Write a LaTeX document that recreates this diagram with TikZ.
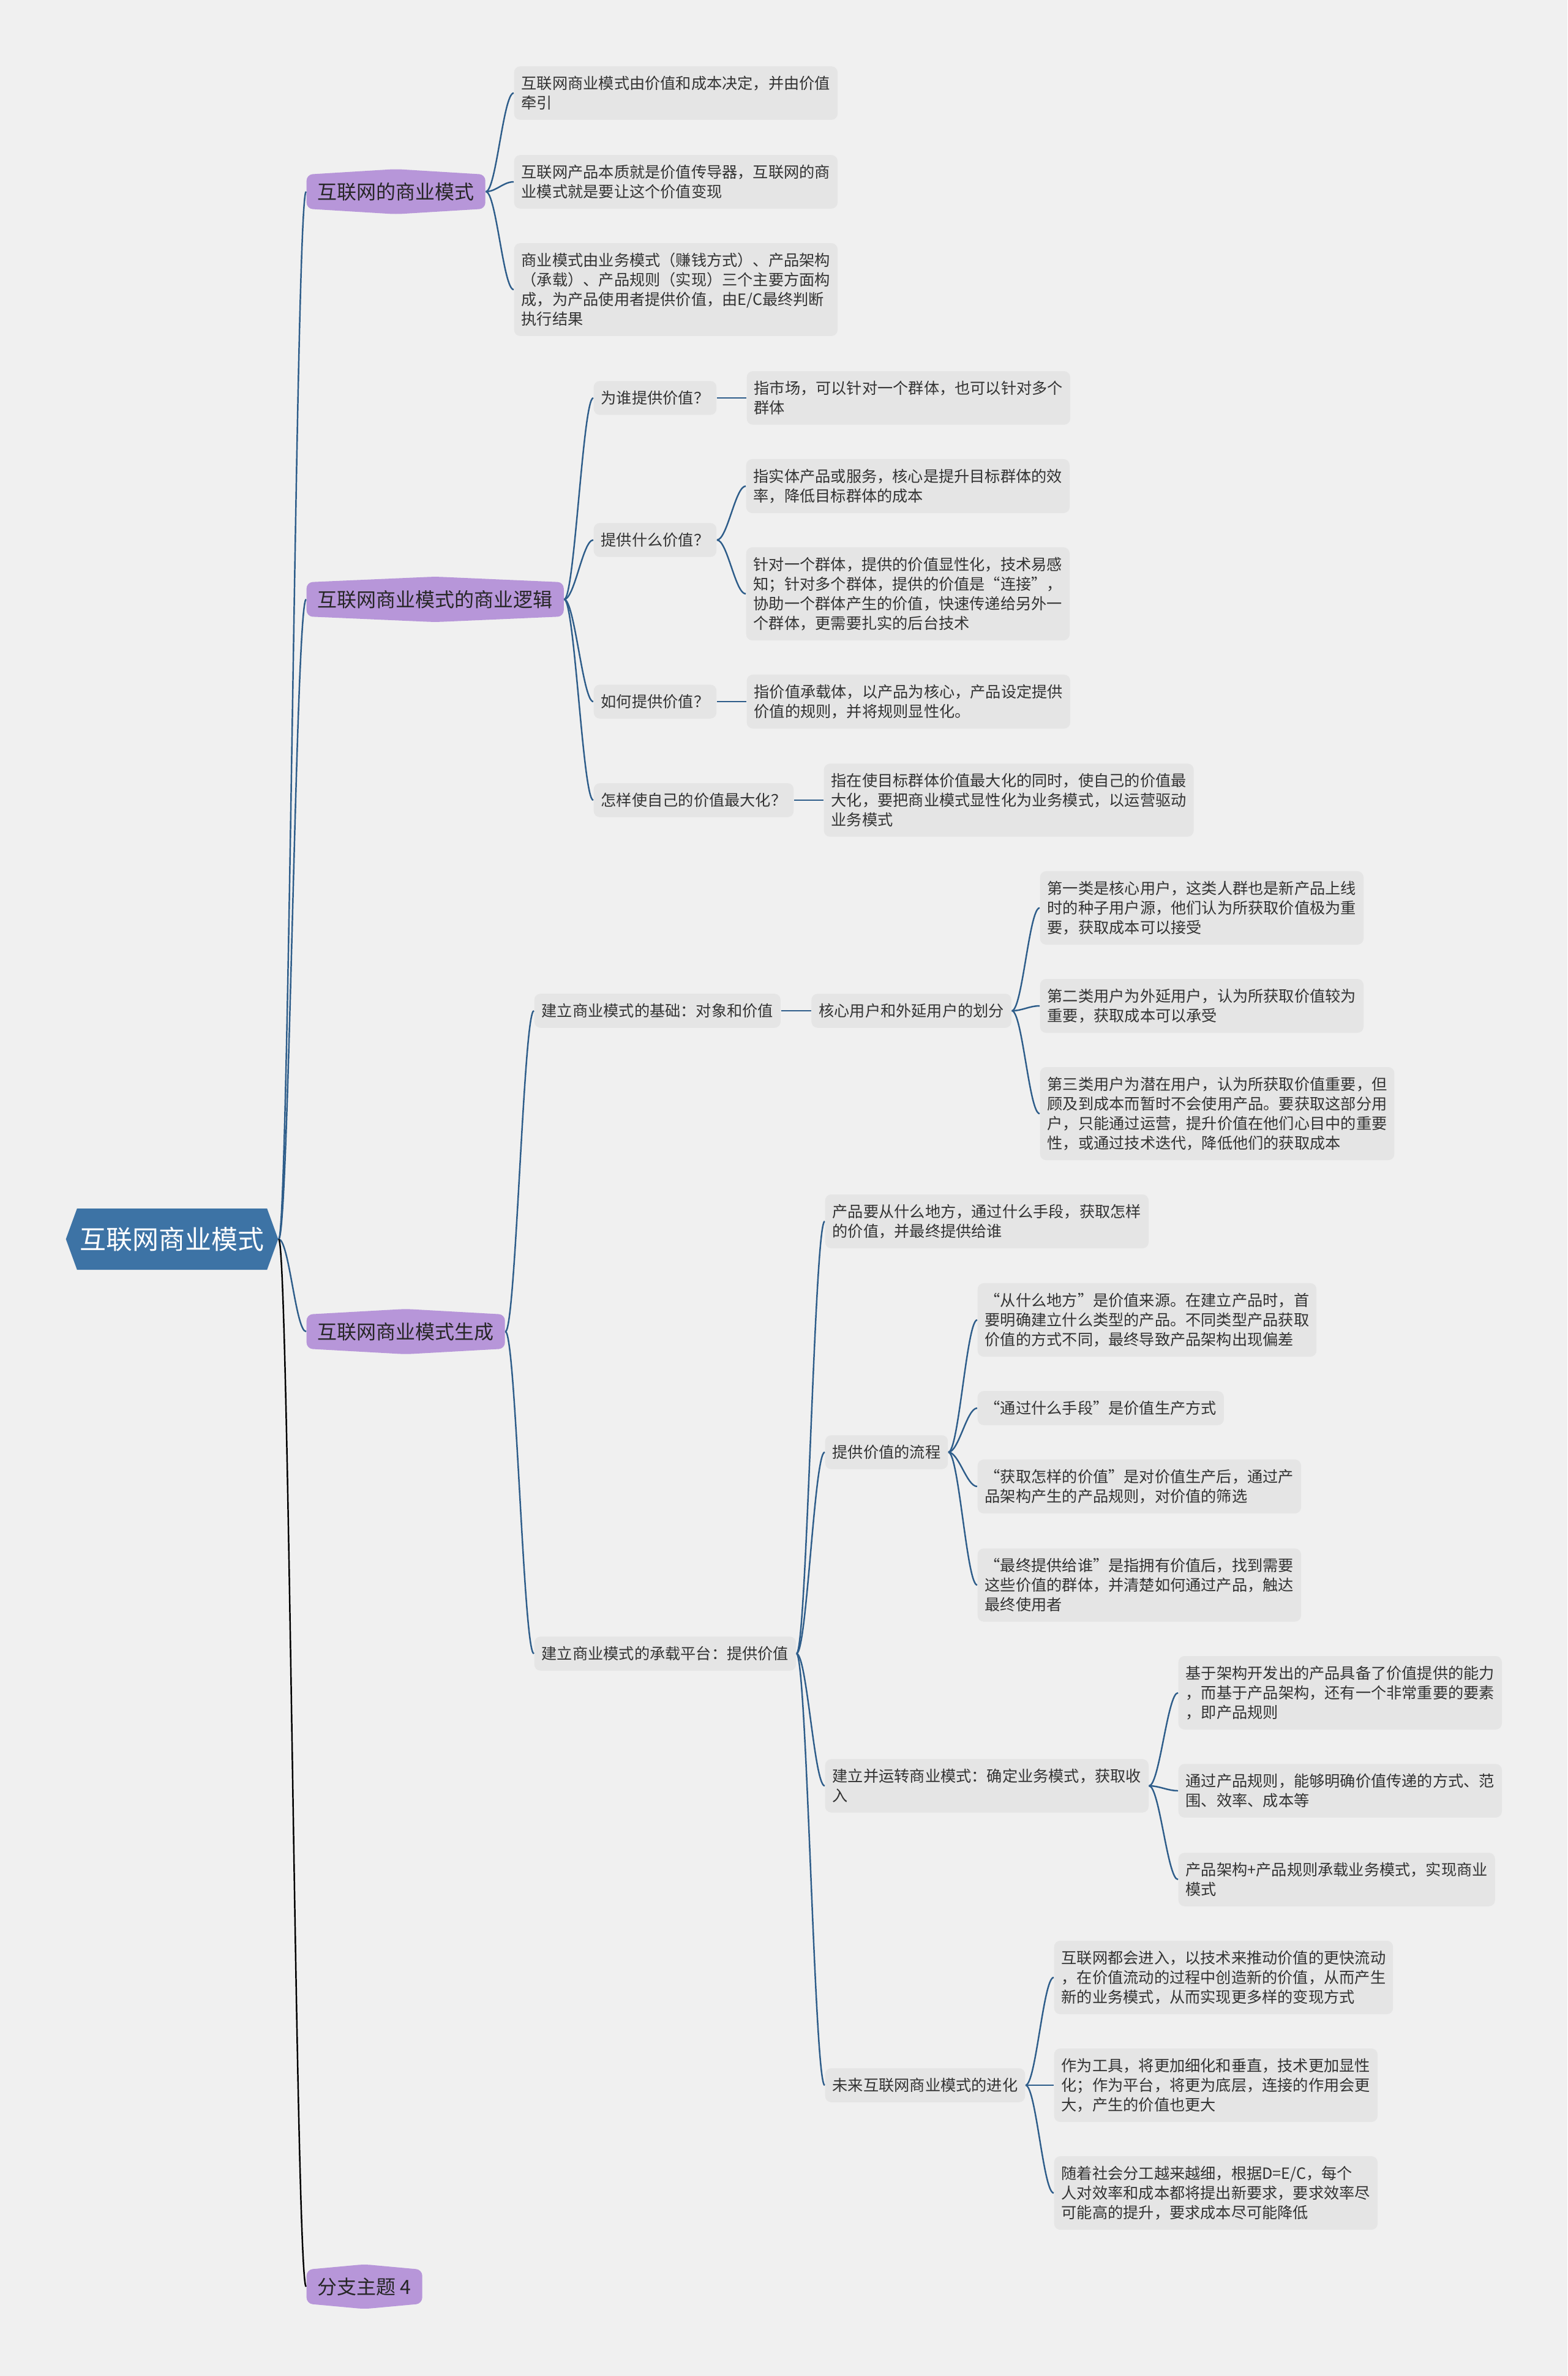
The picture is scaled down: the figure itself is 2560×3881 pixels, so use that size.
\documentclass[tikz,border=0pt]{standalone}
\usepackage{fontspec}
\setmainfont{Noto Sans CJK SC}
\usepackage{tikz}
\usetikzlibrary{positioning, shapes.symbols}
\definecolor{bgc}{HTML}{F0F0F0}
\definecolor{rootc}{HTML}{3D73A5}
\definecolor{topicc}{HTML}{B796D9}
\definecolor{leafc}{HTML}{E5E5E5}
\definecolor{linkc}{HTML}{2E5D8A}
\definecolor{textc}{HTML}{333333}

\begin{document}
\begin{tikzpicture}[x=0.01cm, y=-0.01cm, every node/.style={text=textc},
  rootbox/.style={signal, signal to=west and east, signal pointer angle=140, fill=rootc, text=white, inner xsep=0.05cm, inner ysep=0.3cm, font=\fontsize{12.2pt}{14pt}\selectfont},
  topic/.style={signal, signal to=north and south, signal pointer angle=173, fill=topicc, rounded corners=0.1cm, anchor=west, inner xsep=0.18cm, inner ysep=0.13cm, text=black!85, font=\fontsize{9.1pt}{11pt}\selectfont},
  leaf/.style={fill=leafc, rounded corners=0.1cm, align=left, anchor=west, inner xsep=0.12cm, inner ysep=0.16cm, font=\fontsize{7.17pt}{9.1pt}\selectfont},
  link/.style={draw=linkc, line width=0.7pt, to path={.. controls +(17,0) and +(-17,0) .. (\tikztotarget)}}]
      \fill[bgc] (0,0) rectangle (2560,3881);
      \useasboundingbox (0,0) rectangle (2560,3881);

      \node[rootbox] (root) at (281,2024) {互联网商业模式};
      \node[topic] (t1) at (500,313) {互联网的商业模式};
      \node[topic, signal pointer angle=175] (t2) at (500,979) {互联网商业模式的商业逻辑};
      \node[topic, signal pointer angle=173.6] (t3) at (500,2175) {互联网商业模式生成};
      \node[topic, signal pointer angle=169.5] (t4) at (500,3735) {分支主题 4};

      % 互联网的商业模式
      \node[leaf] (a1) at (839,152) {互联网商业模式由价值和成本决定，并由价值\\牵引};
      \node[leaf] (a2) at (839,297) {互联网产品本质就是价值传导器，互联网的商\\业模式就是要让这个价值变现};
      \node[leaf] (a3) at (839,473) {商业模式由业务模式（赚钱方式）、产品架构\\（承载）、产品规则（实现）三个主要方面构\\成，为产品使用者提供价值，由E/C最终判断\\执行结果};

      % 商业逻辑
      \node[leaf] (q1) at (969,650) {为谁提供价值？};
      \node[leaf, right=0.48cm of q1] (q1a) {指市场，可以针对一个群体，也可以针对多个\\群体};
      \node[leaf] (q2) at (969,882) {提供什么价值？};
      \node[leaf] (q2a) at (1218,794) {指实体产品或服务，核心是提升目标群体的效\\率，降低目标群体的成本};
      \node[leaf] (q2b) at (1218,970) {针对一个群体，提供的价值显性化，技术易感\\知；针对多个群体，提供的价值是“连接”，\\协助一个群体产生的价值，快速传递给另外一\\个群体，更需要扎实的后台技术};
      \node[leaf] (q3) at (969,1146) {如何提供价值？};
      \node[leaf, right=0.48cm of q3] (q3a) {指价值承载体，以产品为核心，产品设定提供\\价值的规则，并将规则显性化。};
      \node[leaf] (q4) at (969,1307) {怎样使自己的价值最大化？};
      \node[leaf, right=0.48cm of q4] (q4a) {指在使目标群体价值最大化的同时，使自己的价值最\\大化，要把商业模式显性化为业务模式，以运营驱动\\业务模式};

      % 生成
      \node[leaf] (b1) at (872,1651) {建立商业模式的基础：对象和价值};
      \node[leaf, right=0.49cm of b1] (c1) {核心用户和外延用户的划分};
      \node[leaf] (c1a) at (1698,1483) {第一类是核心用户，这类人群也是新产品上线\\时的种子用户源，他们认为所获取价值极为重\\要，获取成本可以接受};
      \node[leaf] (c1b) at (1698,1643) {第二类用户为外延用户，认为所获取价值较为\\重要，获取成本可以承受};
      \node[leaf] (c1c) at (1698,1819) {第三类用户为潜在用户，认为所获取价值重要，但\\顾及到成本而暂时不会使用产品。要获取这部分用\\户，只能通过运营，提升价值在他们心目中的重要\\性，或通过技术迭代，降低他们的获取成本};
      \node[leaf] (b2) at (872,2701) {建立商业模式的承载平台：提供价值};
      \node[leaf] (d1) at (1347,1995) {产品要从什么地方，通过什么手段，获取怎样\\的价值，并最终提供给谁};
      \node[leaf] (d2) at (1347,2372) {提供价值的流程};
      \node[leaf] (d2a) at (1596,2156) {“从什么地方”是价值来源。在建立产品时，首\\要明确建立什么类型的产品。不同类型产品获取\\价值的方式不同，最终导致产品架构出现偏差};
      \node[leaf] (d2b) at (1596,2300) {“通过什么手段”是价值生产方式};
      \node[leaf] (d2c) at (1596,2428) {“获取怎样的价值”是对价值生产后，通过产\\品架构产生的产品规则，对价值的筛选};
      \node[leaf] (d2d) at (1596,2589) {“最终提供给谁”是指拥有价值后，找到需要\\这些价值的群体，并清楚如何通过产品，触达\\最终使用者};
      \node[leaf] (d3) at (1347,2917) {建立并运转商业模式：确定业务模式，获取收\\入};
      \node[leaf] (d3a) at (1924,2765) {基于架构开发出的产品具备了价值提供的能力\\，而基于产品架构，还有一个非常重要的要素\\，即产品规则};
      \node[leaf] (d3b) at (1924,2925) {通过产品规则，能够明确价值传递的方式、范\\围、效率、成本等};
      \node[leaf] (d3c) at (1924,3070) {产品架构+产品规则承载业务模式，实现商业\\模式};
      \node[leaf] (d4) at (1347,3406) {未来互联网商业模式的进化};
      \node[leaf] (d4a) at (1721,3230) {互联网都会进入，以技术来推动价值的更快流动\\，在价值流动的过程中创造新的价值，从而产生\\新的业务模式，从而实现更多样的变现方式};
      \node[leaf] (d4b) at (1721,3406) {作为工具，将更加细化和垂直，技术更加显性\\化；作为平台，将更为底层，连接的作用会更\\大，产生的价值也更大};
      \node[leaf] (d4c) at (1721,3582) {随着社会分工越来越细，根据D=E/C，每个\\人对效率和成本都将提出新要求，要求效率尽\\可能高的提升，要求成本尽可能降低};

      \draw[link] (root.east) to (t1.west); \draw[link] (root.east) to (t2.west);
      \draw[link] (root.east) to (t3.west); \draw[link, draw=black] (root.east) to (t4.west);
      \draw[link] (t1.east) to (a1.west); \draw[link] (t1.east) to (a2.west);
      \draw[link] (t1.east) to (a3.west);
      \draw[link] (t2.east) to (q1.west); \draw[link] (t2.east) to (q2.west);
      \draw[link] (t2.east) to (q3.west); \draw[link] (t2.east) to (q4.west);
      \draw[link] (q1.east) to (q1a.west); \draw[link] (q2.east) to (q2a.west);
      \draw[link] (q2.east) to (q2b.west); \draw[link] (q3.east) to (q3a.west);
      \draw[link] (q4.east) to (q4a.west);
      \draw[link] (t3.east) to (b1.west); \draw[link] (t3.east) to (b2.west);
      \draw[link] (b1.east) to (c1.west); \draw[link] (c1.east) to (c1a.west);
      \draw[link] (c1.east) to (c1b.west); \draw[link] (c1.east) to (c1c.west);
      \draw[link] (b2.east) to (d1.west); \draw[link] (b2.east) to (d2.west);
      \draw[link] (b2.east) to (d3.west); \draw[link] (b2.east) to (d4.west);
      \draw[link] (d2.east) to (d2a.west); \draw[link] (d2.east) to (d2b.west);
      \draw[link] (d2.east) to (d2c.west); \draw[link] (d2.east) to (d2d.west);
      \draw[link] (d3.east) to (d3a.west); \draw[link] (d3.east) to (d3b.west);
      \draw[link] (d3.east) to (d3c.west);
      \draw[link] (d4.east) to (d4a.west); \draw[link] (d4.east) to (d4b.west);
      \draw[link] (d4.east) to (d4c.west);
    \end{tikzpicture}
\end{document}
